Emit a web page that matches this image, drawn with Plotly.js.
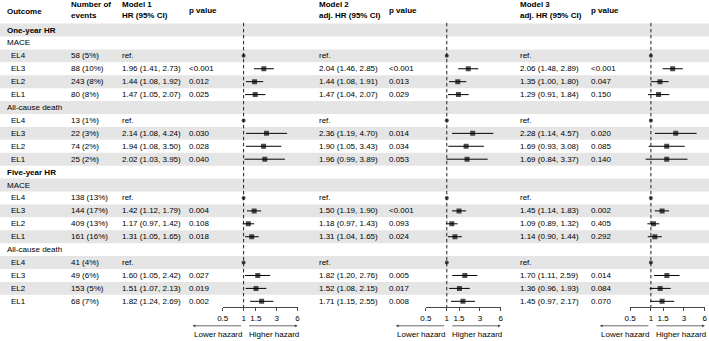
<!DOCTYPE html>
<html>
<head>
<meta charset="utf-8">
<script src="https://cdn.plot.ly/plotly-3.0.1.min.js"></script>
<style>
  html, body { margin: 0; padding: 0; background: #fff; }
  #chart { width: 709px; height: 341px; }
</style>
</head>
<body>
<div id="chart"></div>
<script>
// ---- Table contents -------------------------------------------------------
const periods = ['One-year HR', 'Five-year HR'];
const outcomes = ['MACE', 'All-cause death'];
const groups = ['EL4', 'EL3', 'EL2', 'EL1'];

const eventsOneYearMace = ['58 (5%)', '88 (10%)', '243 (8%)', '80 (8%)'];
const eventsOneYearDeath = ['13 (1%)', '22 (3%)', '74 (2%)', '25 (2%)'];
const eventsFiveYearMace = ['138 (13%)', '144 (17%)', '409 (13%)', '161 (16%)'];
const eventsFiveYearDeath = ['41 (4%)', '49 (6%)', '153 (5%)', '68 (7%)'];

// Item order: one-year MACE, one-year death, five-year MACE, five-year death (EL4..EL1 each).
// null marks the reference group.
const m1Hr = [null, 1.96, 1.44, 1.47, null, 2.14, 1.94, 2.02, null, 1.42, 1.17, 1.31, null, 1.60, 1.51, 1.82];
const m1Lo = [null, 1.41, 1.08, 1.05, null, 1.08, 1.08, 1.03, null, 1.12, 0.97, 1.05, null, 1.05, 1.07, 1.24];
const m1Hi = [null, 2.73, 1.92, 2.07, null, 4.24, 3.50, 3.95, null, 1.79, 1.42, 1.65, null, 2.42, 2.13, 2.69];
const m1P  = ['', '<0.001', '0.012', '0.025', '', '0.030', '0.028', '0.040', '', '0.004', '0.108', '0.018', '', '0.027', '0.019', '0.002'];

const m2Hr = [null, 2.04, 1.44, 1.47, null, 2.36, 1.90, 1.96, null, 1.50, 1.18, 1.31, null, 1.82, 1.52, 1.71];
const m2Lo = [null, 1.46, 1.08, 1.04, null, 1.19, 1.05, 0.99, null, 1.19, 0.97, 1.04, null, 1.20, 1.08, 1.15];
const m2Hi = [null, 2.85, 1.91, 2.07, null, 4.70, 3.43, 3.89, null, 1.90, 1.43, 1.65, null, 2.76, 2.15, 2.55];
const m2P  = ['', '<0.001', '0.013', '0.029', '', '0.014', '0.034', '0.053', '', '<0.001', '0.093', '0.024', '', '0.005', '0.017', '0.008'];

const m3Hr = [null, 2.06, 1.35, 1.29, null, 2.28, 1.69, 1.69, null, 1.45, 1.09, 1.14, null, 1.70, 1.36, 1.45];
const m3Lo = [null, 1.48, 1.00, 0.91, null, 1.14, 0.93, 0.84, null, 1.14, 0.89, 0.90, null, 1.11, 0.96, 0.97];
const m3Hi = [null, 2.89, 1.80, 1.84, null, 4.57, 3.08, 3.37, null, 1.83, 1.32, 1.44, null, 2.59, 1.93, 2.17];
const m3P  = ['', '<0.001', '0.047', '0.150', '', '0.020', '0.085', '0.140', '', '0.002', '0.405', '0.292', '', '0.014', '0.084', '0.070'];

const modelTitles = ['Model 1', 'Model 2', 'Model 3'];
const modelSubtitles = ['HR (95% CI)', 'adj. HR (95% CI)', 'adj. HR (95% CI)'];

const tickVals = [0.5, 1, 1.5, 3, 6];
const tickText = ['0.5', '1', '1.5', '3', '6'];

// ---- Geometry (pixels) ----------------------------------------------------
const W = 709, H = 341;
const FONT = 'Liberation Sans, Arial, Helvetica, sans-serif';
const INK = '#000000';
const rowTop = 30;        // centre of first table row
const rowH = 12.92;       // row pitch
const axisPx = 307;       // y pixel of the forest axes
const refPx = [243.6, 446.8, 650.9];   // pixel of HR = 1 in each panel
const pxPerLn = 30.1;
const hrTextPx = [121, 317.5, 519];
const pTextPx = [188, 388, 590];

const px = v => v / W;
const py = v => 1 - v / H;

// ---- Row structure ----------------------------------------------------------
const eventsByBlock = [eventsOneYearMace, eventsOneYearDeath, eventsFiveYearMace, eventsFiveYearDeath];
const rows = [];
const itemRows = [];
const itemEvents = [];
periods.forEach((per, pi) => {
  rows.push({ label: per, kind: 'period' });
  outcomes.forEach((out, oi) => {
    rows.push({ label: out, kind: 'outcome' });
    const ev = eventsByBlock[pi * 2 + oi];
    groups.forEach((g, gi) => {
      itemRows.push(rows.length);
      itemEvents.push(ev[gi]);
      rows.push({ label: g, kind: 'item' });
    });
  });
});
const nRows = rows.length;
const yBottom = (axisPx - rowTop) / rowH;
const yTop = -rowTop / rowH;

// ---- Traces ---------------------------------------------------------------
const models = [
  { hr: m1Hr, lo: m1Lo, hi: m1Hi, p: m1P },
  { hr: m2Hr, lo: m2Lo, hi: m2Hi, p: m2P },
  { hr: m3Hr, lo: m3Lo, hi: m3Hi, p: m3P }
];
const axisIds = ['x', 'x2', 'x3'];
const traces = [];
models.forEach((m, k) => {
  // reference line at HR = 1
  traces.push({
    type: 'scatter', mode: 'lines', xaxis: axisIds[k], yaxis: 'y',
    x: [1, 1], y: [-0.55, yBottom],
    line: { color: '#222', width: 1, dash: '3.5px,2.5px' },
    hoverinfo: 'skip'
  });
  traces.push({
    type: 'scatter', mode: 'markers', xaxis: axisIds[k], yaxis: 'y',
    x: m.hr.map(v => v === null ? 1 : v),
    y: itemRows,
    error_x: {
      type: 'data', symmetric: false,
      array: m.hr.map((v, i) => v === null ? 0 : m.hi[i] - v),
      arrayminus: m.hr.map((v, i) => v === null ? 0 : v - m.lo[i]),
      width: 0, thickness: 1, color: INK
    },
    marker: {
      symbol: m.hr.map(v => v === null ? 'circle' : 'square'),
      size: m.hr.map(v => v === null ? 4 : 5),
      color: INK, line: { width: 0 }
    },
    hoverinfo: 'skip'
  });
});

// ---- Zebra stripes --------------------------------------------------------
const shapes = [];
for (let i = 0; i < nRows; i += 2) {
  shapes.push({
    type: 'rect', layer: 'below', xref: 'paper', yref: 'y',
    x0: 0, x1: 1, y0: i - 0.5, y1: i + 0.5,
    fillcolor: '#e5e5e5', line: { width: 0 }
  });
}

// ---- Text -----------------------------------------------------------------
const annotations = [];
function txt(text, xPx, y, opts = {}) {
  annotations.push(Object.assign({
    text: text, xref: 'paper', yref: opts.yref || 'y',
    x: px(xPx - 1), y: y, xanchor: 'left', yanchor: 'middle',
    showarrow: false, font: { family: FONT, size: 8, color: INK }
  }, opts.extra || {}));
}

// header
txt('<b>Outcome</b>', 5.5, py(11.7), { yref: 'paper' });
txt('<b>Number of</b>', 70, py(4.3), { yref: 'paper' });
txt('<b>events</b>', 70, py(15.7), { yref: 'paper' });
modelTitles.forEach((t, k) => {
  txt('<b>' + t + '</b>', hrTextPx[k], py(4.3), { yref: 'paper' });
  txt('<b>' + modelSubtitles[k] + '</b>', hrTextPx[k], py(15.7), { yref: 'paper' });
  txt('<b>p value</b>', pTextPx[k], py(10.7), { yref: 'paper' });
});

// row labels
rows.forEach((r, i) => {
  if (r.kind === 'period') txt('<b>' + r.label + '</b>', 5.5, i);
  else if (r.kind === 'outcome') txt(r.label, 5.5, i);
  else txt(r.label, 10, i);
});

// events and estimates
const f2 = v => v.toFixed(2);
itemRows.forEach((ri, j) => {
  txt(itemEvents[j], 70, ri);
  models.forEach((m, k) => {
    if (m.hr[j] === null) {
      txt('ref.', hrTextPx[k], ri);
    } else {
      txt(f2(m.hr[j]) + ' (' + f2(m.lo[j]) + ', ' + f2(m.hi[j]) + ')', hrTextPx[k], ri);
      txt(m.p[j], pTextPx[k], ri);
    }
  });
});

// direction arrows and captions under each panel
const arrowY = py(325.8);
const captionY = py(334.3);
refPx.forEach(r => {
  annotations.push({
    xref: 'paper', yref: 'paper', x: px(r - 51), y: arrowY,
    ax: 50, ay: 0, text: '', showarrow: true,
    arrowhead: 2, arrowsize: 0.7, arrowwidth: 0.8, arrowcolor: '#444', standoff: 0
  });
  annotations.push({
    xref: 'paper', yref: 'paper', x: px(r + 54), y: arrowY,
    ax: -50, ay: 0, text: '', showarrow: true,
    arrowhead: 2, arrowsize: 0.7, arrowwidth: 0.8, arrowcolor: '#444', standoff: 0
  });
  annotations.push({
    text: 'Lower hazard', xref: 'paper', yref: 'paper',
    x: px(r), y: captionY, xanchor: 'right', yanchor: 'middle',
    showarrow: false, font: { family: FONT, size: 8, color: INK }
  });
  annotations.push({
    text: 'Higher hazard', xref: 'paper', yref: 'paper',
    x: px(r + 3.5), y: captionY, xanchor: 'left', yanchor: 'middle',
    showarrow: false, font: { family: FONT, size: 8, color: INK }
  });
});

// ---- Axes -----------------------------------------------------------------
const lnLow = Math.log(0.5), lnHigh = Math.log(6);
function forestAxis(k) {
  const start = refPx[k] + lnLow * pxPerLn;
  const end = refPx[k] + lnHigh * pxPerLn;
  return {
    type: 'log', domain: [px(start), px(end)], anchor: 'y',
    range: [Math.log10(0.5), Math.log10(6)],
    tickmode: 'array', tickvals: tickVals, ticktext: tickText,
    ticks: 'outside', ticklen: 3, tickwidth: 0.9, tickcolor: '#333',
    showline: true, linecolor: '#333', linewidth: 0.9,
    showgrid: false, zeroline: false, fixedrange: true,
    tickfont: { family: FONT, size: 8, color: INK }
  };
}

const layout = {
  width: W, height: H,
  margin: { l: 0, r: 0, t: 0, b: 0, pad: 0 },
  paper_bgcolor: '#ffffff', plot_bgcolor: 'rgba(0,0,0,0)',
  showlegend: false,
  xaxis: forestAxis(0),
  xaxis2: forestAxis(1),
  xaxis3: forestAxis(2),
  yaxis: {
    domain: [py(axisPx), 1], range: [yBottom, yTop],
    visible: false, showgrid: false, zeroline: false, fixedrange: true
  },
  shapes: shapes,
  annotations: annotations
};

Plotly.newPlot('chart', traces, layout, { displayModeBar: false, staticPlot: true });
</script>
</body>
</html>
